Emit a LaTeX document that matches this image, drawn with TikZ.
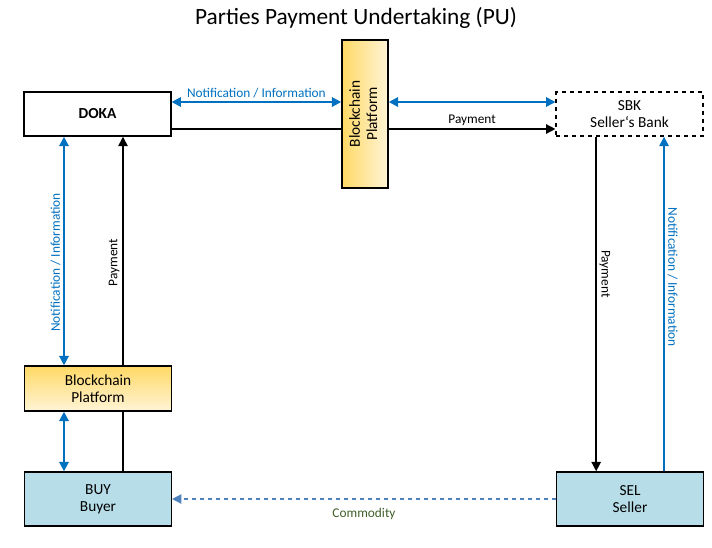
\documentclass[tikz,border=0pt]{standalone}
\usepackage{fontspec}
\setmainfont{Carlito}
\usepackage{tikz}
\usetikzlibrary{positioning,calc,arrows.meta}
\definecolor{infoc}{HTML}{0070C0}
\definecolor{chainc}{HTML}{FFD966}
\definecolor{chainl}{HTML}{FFF4D6}
\definecolor{partyc}{HTML}{B7DEE8}
\definecolor{goodsc}{HTML}{4F81BD}
\definecolor{goodst}{HTML}{3F5F2A}

\begin{document}
\begin{tikzpicture}[x=0.75pt,y=-0.75pt,font=\fontsize{11.5}{13}\selectfont,
  >={Triangle[length=7pt,width=7pt]},
  box/.style={draw, line width=1.1pt, align=center, minimum width=110pt, minimum height=33pt},
  chain/.style={box, top color=chainc, bottom color=chainl},
  party/.style={box, fill=partyc, minimum height=40.5pt},
  pay/.style={line width=1.1pt, ->},
  info/.style={infoc, line width=1.5pt},
  lbl/.style={font=\fontsize{10}{11}\selectfont, inner sep=2pt}]
  \useasboundingbox (0,0) rectangle (712,547);
  \node (title) at (356,18){\fontsize{17.5}{20}\selectfont Parties Payment Undertaking (PU)};
  % upper row
  \node[box, font=\fontsize{11.5}{13}\selectfont\bfseries] (dk) at (97.5,114){DOKA};
  \node[box, left color=chainc, right color=chainl, minimum width=34.5pt, minimum height=111pt, inner sep=0pt] (bc) at (365,114)
    {\rotatebox{90}{\begin{tabular}{@{}c@{}}Blockchain\\Platform\end{tabular}}};
  \node[box, dashed] (sbk) at (629.5,114){SBK\\Seller‘s Bank};
  % lower row
  \node[chain, minimum height=33.75pt] (bcl) at (98,388.5){Blockchain\\Platform};
  \node[party] (buy) at (98,499){BUY\\Buyer};
  \node[party] (sel) at (630,499){SEL\\Seller};
  % top connectors
  \draw[info, <->] ([yshift=9pt]dk.east) -- ([yshift=9pt]dk.east -| bc.west)
    node[midway, above, lbl, infoc]{Notification / Information};
  \draw[line width=1.1pt] ([yshift=-11.25pt]dk.east) -- ([yshift=-11.25pt]dk.east -| bc.west);
  \draw[info, <->] ([yshift=9pt]dk.east -| bc.east) -- ([yshift=9pt]dk.east -| sbk.west);
  \draw[pay] ([yshift=-11.25pt]dk.east -| bc.east) -- ([yshift=-11.25pt]dk.east -| sbk.west)
    node[midway, above, lbl]{Payment};
  % right side
  \draw[pay] ([xshift=-25pt]sbk.south) -- ([xshift=-25pt]sbk.south |- sel.north)
    node[pos=0.41, sloped, above, lbl]{Payment};
  \draw[info, <-] ([xshift=25.9pt]sbk.south) -- ([xshift=25.9pt]sbk.south |- sel.north)
    node[pos=0.42, sloped, above, lbl]{Notification / Information};
  % left side
  \draw[info, <->] ([xshift=-25.5pt]bcl.north) -- ([xshift=-25.5pt]bcl.north |- dk.south)
    node[pos=0.45, sloped, above, lbl]{Notification / Information};
  \draw[pay] ([xshift=18.75pt]bcl.north) -- ([xshift=18.75pt]bcl.north |- dk.south)
    node[pos=0.45, sloped, above, lbl]{Payment};
  \draw[info, <->] ([xshift=-25.5pt]buy.north) -- ([xshift=-25.5pt]buy.north |- bcl.south);
  \draw[line width=1.1pt] ([xshift=18.75pt]buy.north) -- ([xshift=18.75pt]buy.north |- bcl.south);
  % bottom
  \draw[goodsc, line width=1.1pt, dashed, ->] (sel.west) -- (buy.east)
    node[midway, below=4pt, lbl, goodst]{Commodity};
\end{tikzpicture}
\end{document}
